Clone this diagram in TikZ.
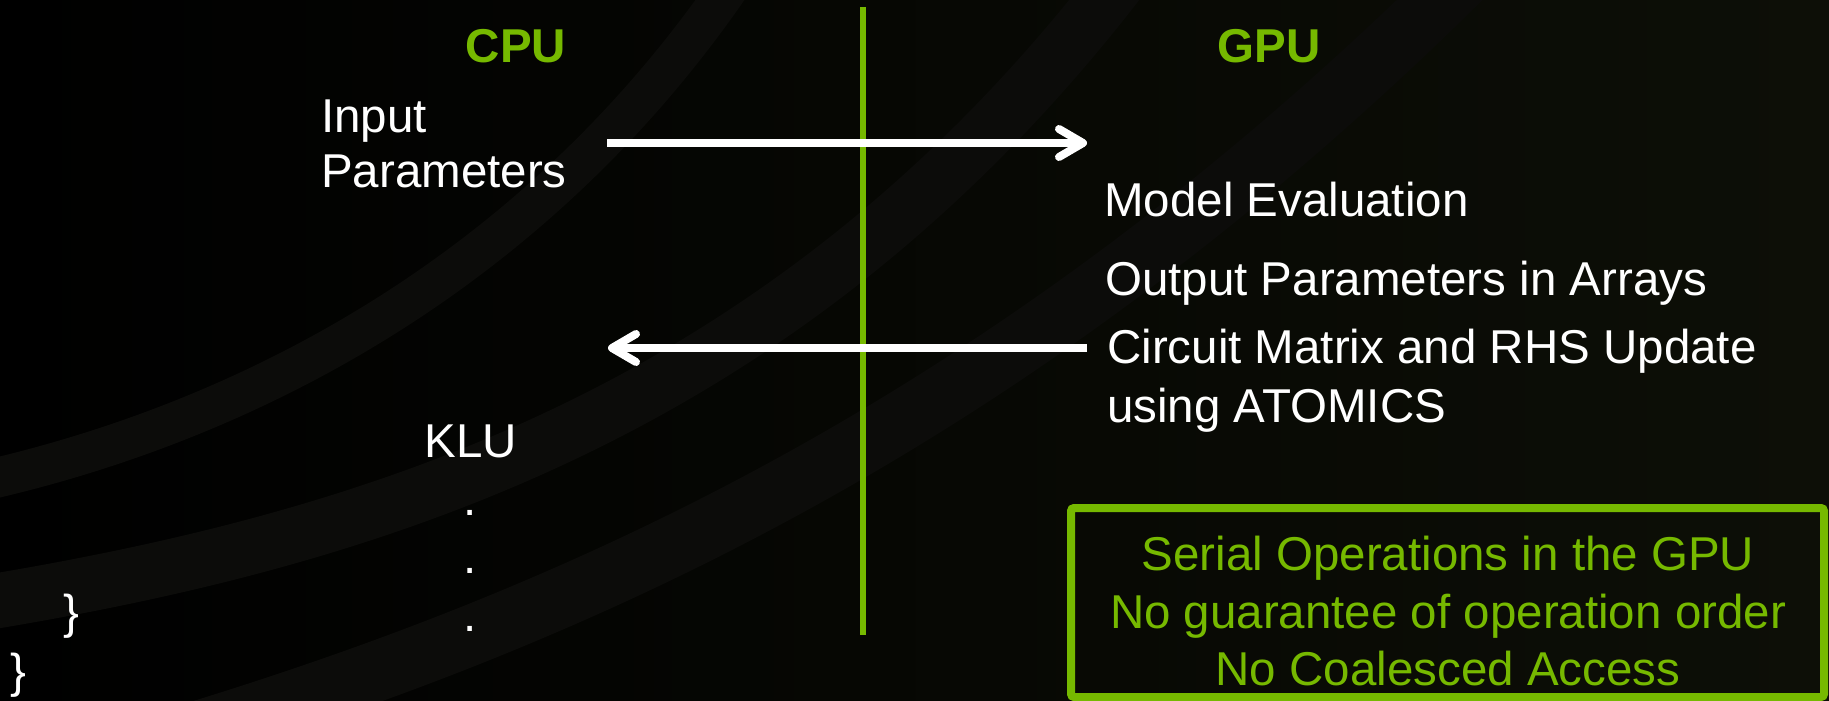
\documentclass[tikz,border=0pt]{standalone}
\usepackage{fontspec}
\setmainfont{Liberation Sans}
\usetikzlibrary{arrows.meta}
\definecolor{nvgreen}{RGB}{118,185,0}
\definecolor{bgolive}{RGB}{13,15,7}
\definecolor{swirl}{RGB}{12,12,10}

\begin{document}
\begin{tikzpicture}[x=1pt,y=-1pt,
  txt/.style={text=white, inner sep=0pt, font=\fontsize{47.5}{55}\selectfont},
  head/.style={text=nvgreen, inner sep=0pt, font=\fontsize{47.5}{55}\selectfont\bfseries},
  flow/.style={draw=white, line width=8pt, -{Straight Barb[length=24pt,width=28pt,round]}},
  divider/.style={draw=nvgreen, line width=6pt},
  notebox/.style={draw=nvgreen, line width=8pt, rounded corners=3pt},
  note/.style={text=nvgreen, inner sep=0pt, align=center, font=\fontsize{47.5}{57.5}\selectfont},
  band/.style={draw=swirl}
]
\useasboundingbox (0,0) rectangle (1829,701);

% dark backdrop with faint swirl bands running off the page
\shade[left color=black, right color=bgolive] (0,0) rectangle (1829,701);
\draw[band, line width=40pt] (-60,490) .. controls (250,430) and (560,260) .. (760,-60);
\draw[band, line width=55pt] (-60,610) .. controls (360,545) and (800,420) .. (1150,-60);
\draw[band, line width=60pt] (100,760) .. controls (520,640) and (1000,450) .. (1500,-60);

% column headings and divider
\node[head, anchor=base] (cpu) at (516,63) {CPU};
\node[head, anchor=base] (gpu) at (1269,63) {GPU};
\coordinate (divtop) at (863,7);
\coordinate (divbot) at (863,635);
\draw[divider] (divtop) -- (divbot);

% CPU side
\node[txt, anchor=north west, align=left] (inp) at (321,100) {Input\\Parameters};
\node[txt, anchor=base] (klu) at (471,457) {KLU};
\node[txt, anchor=base] (d1) at (470,515) {.};
\node[txt, anchor=base] (d2) at (470,573) {.};
\node[txt, anchor=base] (d3) at (470,631) {.};
\node[txt, anchor=base west] (br1) at (63,628) {\}};
\node[txt, anchor=base west] (br2) at (10,687) {\}};

% GPU side
\node[txt, anchor=base west] (model) at (1104,216) {Model Evaluation};
\node[txt, anchor=base west] (outp) at (1105,295) {Output Parameters in Arrays};
\node[txt, anchor=north west, align=left, font=\fontsize{47.5}{59}\selectfont] (circ) at (1107,329) {Circuit Matrix and RHS Update\\using ATOMICS};

% transfers between host and device
\coordinate (txs) at (607,143);
\coordinate (txe) at (1087,143);
\coordinate (rxs) at (1087,348);
\coordinate (rxe) at (608,348);
\draw[flow] (txs) -- (txe);
\draw[flow] (rxs) -- (rxe);

% remarks box
\draw[notebox] (1071,508) rectangle (1824,697);
\node[note, anchor=north] (remarks) at (1448,536) {Serial Operations in the GPU\\No guarantee of operation order\\No Coalesced Access};
\end{tikzpicture}
\end{document}
